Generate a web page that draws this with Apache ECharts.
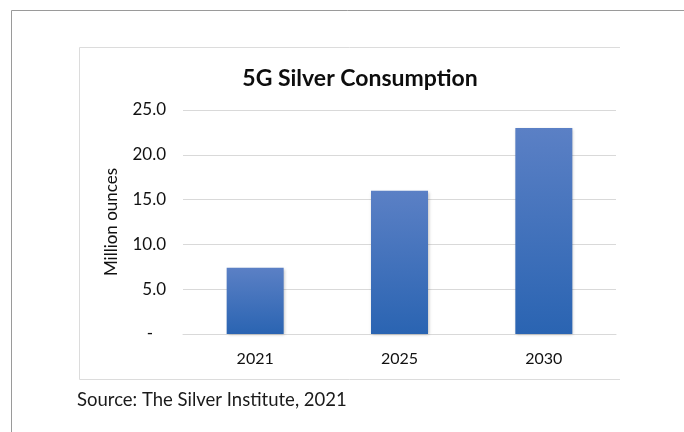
<!DOCTYPE html>
<html>
<head>
<meta charset="utf-8">
<script src="https://cdn.jsdelivr.net/npm/echarts@6/dist/echarts.min.js"></script>
<style>
html,body{margin:0;padding:0;background:#fff;}
#chart{width:684px;height:432px;}
</style>
</head>
<body>
<div id="chart"></div>
<script>
var categories = ['2021', '2025', '2030'];
var consumption = [7.4, 16.0, 23.0];
var yTicks = [0, 5, 10, 15, 20, 25];

var chart = echarts.init(document.getElementById('chart'));
var FONT = 'Lato, "Open Sans", sans-serif';
chart.setOption({
  backgroundColor: '#ffffff',
  animation: false,
  title: {
    text: '5G Silver Consumption',
    left: 355, top: 62, textAlign: 'center',
    textStyle: { fontFamily: FONT, fontSize: 23, fontWeight: 'bold', color: '#0d0d0d' }
  },
  grid: { left: 183, right: 68, top: 110, bottom: 98 },
  xAxis: {
    type: 'category',
    data: categories,
    axisLine: { lineStyle: { color: '#d9d9d9', width: 1 } },
    axisTick: { show: false },
    axisLabel: { fontFamily: FONT, fontSize: 16, color: '#111', margin: 17 }
  },
  yAxis: {
    type: 'value',
    min: 0, max: 25, interval: 5,
    name: 'Million ounces',
    nameLocation: 'middle',
    nameGap: 63,
    nameTextStyle: { fontFamily: FONT, fontSize: 17, color: '#111' },
    axisLine: { show: false },
    axisTick: { show: false },
    splitLine: { lineStyle: { color: '#d9d9d9', width: 1 } },
    axisLabel: {
      fontFamily: FONT, fontSize: 17, color: '#111', margin: 17,
      formatter: function (v) { return v === 0 ? '-   ' : v.toFixed(1); }
    }
  },
  series: [{
    type: 'bar',
    data: consumption,
    barWidth: 57,
    itemStyle: {
      color: new echarts.graphic.LinearGradient(0, 0, 0, 1, [
        { offset: 0, color: '#5b80c5' },
        { offset: 1, color: '#2a64b2' }
      ]),
      shadowColor: 'rgba(0,0,0,0.25)', shadowBlur: 3, shadowOffsetX: 1, shadowOffsetY: 1
    }
  }],
  graphic: [
    { type: 'polyline', silent: true,
      shape: { points: [[11.5, 432], [11.5, 10.5], [684, 10.5]] },
      style: { stroke: '#9a9a9a', lineWidth: 1, fill: null } },
    { type: 'polyline', silent: true,
      shape: { points: [[620, 47.5], [79.5, 47.5], [79.5, 379.5], [620, 379.5]] },
      style: { stroke: '#dcdcdc', lineWidth: 1, fill: null } },
    { type: 'text', silent: true, x: 77, y: 400,
      style: { text: 'Source: The Silver Institute, 2021', fontFamily: FONT, fontSize: 18.5, fill: '#1a1a1a', verticalAlign: 'middle' } }
  ]
});
</script>
</body>
</html>
